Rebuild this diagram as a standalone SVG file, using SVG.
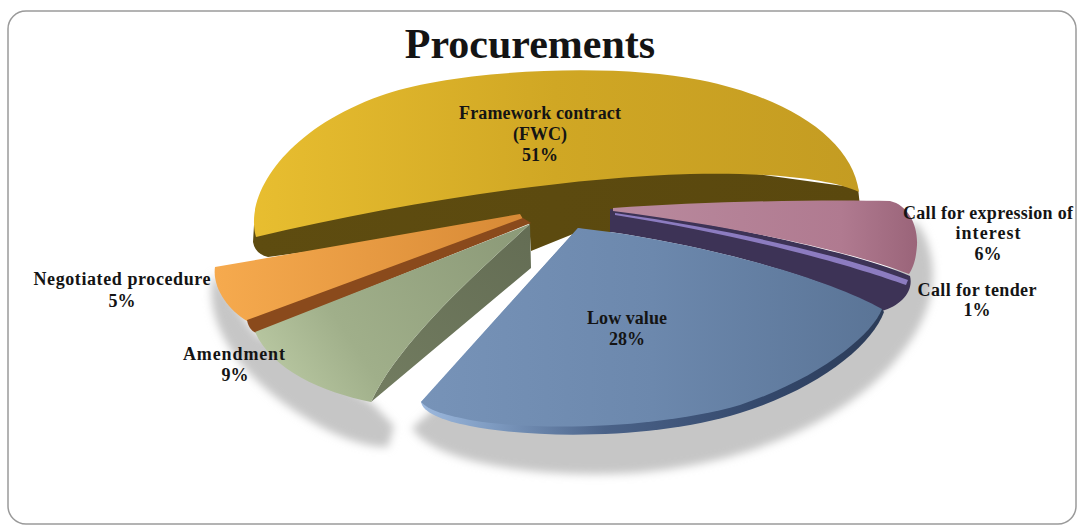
<svg xmlns="http://www.w3.org/2000/svg" width="1079" height="527" viewBox="0 0 1079 527">
<style>
.lbl{font-family:"Liberation Serif","DejaVu Serif",serif;font-weight:bold;font-size:18px;fill:#141414;text-anchor:middle}
.title{font-family:"Liberation Serif","DejaVu Serif",serif;font-weight:bold;font-size:42px;fill:#141414;text-anchor:middle}
</style>
<defs>
<filter id="blur" x="-20%" y="-20%" width="140%" height="140%"><feGaussianBlur stdDeviation="4"/></filter>
<linearGradient id="gGold" x1="250" y1="0" x2="860" y2="0" gradientUnits="userSpaceOnUse">
<stop offset="0" stop-color="#E8BE30"/><stop offset="0.5" stop-color="#D0A724"/><stop offset="1" stop-color="#C49C22"/></linearGradient>
<linearGradient id="gBrown" x1="250" y1="0" x2="860" y2="0" gradientUnits="userSpaceOnUse">
<stop offset="0" stop-color="#5E4C10"/><stop offset="1" stop-color="#5A480E"/></linearGradient>
<linearGradient id="gOrange" x1="215" y1="0" x2="522" y2="0" gradientUnits="userSpaceOnUse">
<stop offset="0" stop-color="#F6AA4E"/><stop offset="1" stop-color="#D88A36"/></linearGradient>
<linearGradient id="gGreen" x1="280" y1="390" x2="520" y2="230" gradientUnits="userSpaceOnUse">
<stop offset="0" stop-color="#B9C8A2"/><stop offset="0.3" stop-color="#A0AF8A"/><stop offset="1" stop-color="#8C9A78"/></linearGradient>
<linearGradient id="gOlive" x1="380" y1="400" x2="530" y2="230" gradientUnits="userSpaceOnUse">
<stop offset="0" stop-color="#727C60"/><stop offset="1" stop-color="#646D54"/></linearGradient>
<linearGradient id="gBlue" x1="420" y1="0" x2="885" y2="0" gradientUnits="userSpaceOnUse">
<stop offset="0" stop-color="#7793B8"/><stop offset="0.5" stop-color="#6C88AD"/><stop offset="1" stop-color="#5A7496"/></linearGradient>
<linearGradient id="gRim" x1="420" y1="0" x2="885" y2="0" gradientUnits="userSpaceOnUse">
<stop offset="0" stop-color="#9DB9DE"/><stop offset="0.15" stop-color="#7F9CC2"/><stop offset="0.4" stop-color="#4A6288"/><stop offset="0.75" stop-color="#33476A"/><stop offset="1" stop-color="#2C3C58"/></linearGradient>
<linearGradient id="gPink" x1="613" y1="0" x2="918" y2="0" gradientUnits="userSpaceOnUse">
<stop offset="0" stop-color="#B98A9E"/><stop offset="0.75" stop-color="#B07A90"/><stop offset="1" stop-color="#9A6479"/></linearGradient>
</defs>

<rect x="8" y="11" width="1068" height="513" rx="18" ry="18" fill="#FFFFFF" stroke="#9A9A9A" stroke-width="1.5"/>

<text class="title" x="530" y="58">Procurements</text>

<g id="shadows" fill="#C6C6C6" filter="url(#blur)">
<path d="M 412,428 C 432,460 520,476 612,474 C 740,470 850,420 900,355 C 925,325 938,290 931,256 C 927,236 920,226 913,220 L 880,300 L 500,350 Z"/>
<path d="M 214,274 C 203,312 228,362 282,402 C 320,430 360,448 388,447 L 394,426 L 372,403 L 255,333 L 247,322 Z"/>
</g>

<g id="slice-fwc">
<path fill="url(#gBrown)" d="M 253,242 L 254,225 C 400,186 560,166 700,166 L 858,188 L 860,206 L 613,214 L 611,232 L 578,232 L 531,251 L 529,222 L 268,257 Q 255,254 253,242 Z"/>
<path fill="url(#gGold)" d="M 256,237 C 244,195 285,130 380,96 C 450,70 610,62 700,80 C 790,98 852,140 859,192 C 830,178 760,172 690,174 C 560,178 400,203 256,237 Z"/>
</g>

<g id="slice-negotiated">
<path fill="url(#gOrange)" d="M 215,267 L 520,214 L 523,219 L 247,321 C 228,310 212,287 215,267 Z"/>
<path fill="#8A4A1C" d="M 247,320 L 523,218 L 531,223 L 256,333 C 251,331 248,326 247,320 Z"/>
</g>

<g id="slice-amendment">
<path fill="url(#gOlive)" d="M 530,224 L 531,268 L 371,402 C 400,340 480,270 530,224 Z"/>
<path fill="url(#gGreen)" d="M 255,332 L 530,224 C 480,270 400,340 371,402 C 322,392 272,370 255,332 Z"/>
</g>

<g id="slice-tender">
<path fill="#3D3356" d="M 610,209 C 700,220 850,250 910,276 C 914,292 900,306 882,311 C 830,280 720,248 610,232 Z"/>
<path fill="#8C7CC0" d="M 615,213 C 760,234 860,262 908,280 L 906,285 C 858,268 760,238 615,215 Z"/>
</g>

<g id="slice-lowvalue">
<path fill="url(#gRim)" d="M 421,402 C 423,412 440,420 470,426 C 540,440 660,438 740,413 C 820,388 872,345 884,312 L 882,309 L 578,228 Z"/>
<path fill="url(#gBlue)" d="M 578,228 L 610,232 C 720,248 830,280 882,309 C 872,335 820,378 740,405 C 660,428 540,432 470,420 C 445,415 428,410 421,402 Z"/>
</g>

<g id="slice-interest">
<path fill="url(#gPink)" d="M 613,208 C 700,202 820,199 890,201 C 908,205 918,225 917,245 C 916,260 913,268 909,274 C 860,255 760,230 613,211 Z"/>
</g>

<g id="labels">
<text class="lbl" x="540" y="119" textLength="162" lengthAdjust="spacing">Framework contract</text>
<text class="lbl" x="540" y="140">(FWC)</text>
<text class="lbl" x="540" y="161">51%</text>
<text class="lbl" x="988" y="219" textLength="170" lengthAdjust="spacing">Call for expression of</text>
<text class="lbl" x="988" y="239" textLength="65" lengthAdjust="spacing">interest</text>
<text class="lbl" x="988" y="260">6%</text>
<text class="lbl" x="977" y="296" textLength="119" lengthAdjust="spacing">Call for tender</text>
<text class="lbl" x="977" y="316">1%</text>
<text class="lbl" x="122" y="285" textLength="177" lengthAdjust="spacing">Negotiated procedure</text>
<text class="lbl" x="122" y="307">5%</text>
<text class="lbl" x="234" y="360" textLength="102" lengthAdjust="spacing">Amendment</text>
<text class="lbl" x="235" y="381">9%</text>
<text class="lbl" x="627" y="324" textLength="80" lengthAdjust="spacing">Low value</text>
<text class="lbl" x="627" y="345">28%</text>
</g>
</svg>
